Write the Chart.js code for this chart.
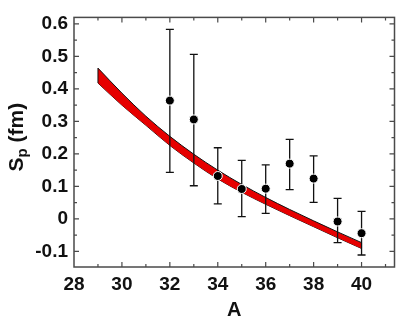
<!DOCTYPE html>
<html>
<head>
<meta charset="utf-8">
<script src="https://cdn.jsdelivr.net/npm/chart.js@4.4.1/dist/chart.umd.min.js"></script>
<style>
  html, body { margin: 0; padding: 0; background: #fff; }
  #wrap { width: 400px; height: 322px; position: relative; }
</style>
</head>
<body>
<div id="wrap"><canvas id="c" width="400" height="322"></canvas></div>
<script>
// ---- data ----
const bandA     = [29, 30, 31, 32, 33, 34, 35, 36, 37, 38, 39, 40];
const bandUpper = [0.464, 0.387, 0.316, 0.254, 0.199, 0.150, 0.106, 0.066, 0.029, -0.006, -0.040, -0.073];
const bandLower = [0.418, 0.350, 0.288, 0.226, 0.172, 0.123, 0.082, 0.045, 0.010, -0.024, -0.058, -0.091];

const massA   = [32, 33, 34, 35, 36, 37, 38, 39, 40];
const spValue = [0.364, 0.306, 0.132, 0.092, 0.093, 0.170, 0.124, -0.008, -0.044];
const errHigh = [0.583, 0.506, 0.219, 0.180, 0.166, 0.245, 0.194, 0.063, 0.023];
const errLow  = [0.143, 0.102, 0.046, 0.007, 0.017, 0.090, 0.051, -0.073, -0.111];

const xTicks = [28, 30, 32, 34, 36, 38, 40];
const xMinorTicks = [29, 31, 33, 35, 37, 39, 41];
const yTicks = [-0.1, 0, 0.1, 0.2, 0.3, 0.4, 0.5, 0.6];
const yMinorTicks = [-0.05, 0.05, 0.15, 0.25, 0.35, 0.45, 0.55];

const xTitle = 'A';
const yTitleMain = 'S';
const yTitleSub = 'p';
const yTitleRest = ' (fm)';

// ---- build data for the library ----
const upperPts = bandA.map((a, i) => ({ x: a, y: bandUpper[i] }));
const lowerPts = bandA.map((a, i) => ({ x: a, y: bandLower[i] }));
const points = massA.map((a, i) => ({ x: a, y: spValue[i] }));

const FONT = "'Liberation Sans', Arial, sans-serif";
const FRAME = '#4a4a4a';

const decor = {
  id: 'decor',
  beforeDatasetDraw(chart, args) {
    if (args.index !== 0) return;
    const ctx = chart.ctx, xs = chart.scales.x, ys = chart.scales.y;
    ctx.save();
    // band end edges
    ctx.strokeStyle = '#111';
    ctx.lineWidth = 1;
    [0, bandA.length - 1].forEach(i => {
      const px = xs.getPixelForValue(bandA[i]);
      ctx.beginPath();
      ctx.moveTo(px, ys.getPixelForValue(bandUpper[i]));
      ctx.lineTo(px, ys.getPixelForValue(bandLower[i]));
      ctx.stroke();
    });
    // error bars
    ctx.lineWidth = 1.3;
    massA.forEach((a, i) => {
      const px = xs.getPixelForValue(a);
      const pt = ys.getPixelForValue(errHigh[i]);
      const pb = ys.getPixelForValue(errLow[i]);
      ctx.beginPath();
      ctx.moveTo(px, pt); ctx.lineTo(px, pb);
      ctx.moveTo(px - 4, pt); ctx.lineTo(px + 4, pt);
      ctx.moveTo(px - 4, pb); ctx.lineTo(px + 4, pb);
      ctx.stroke();
    });
    ctx.restore();
  },
  afterDraw(chart) {
    const ctx = chart.ctx, xs = chart.scales.x, ys = chart.scales.y;
    const ca = chart.chartArea;
    ctx.save();
    ctx.strokeStyle = FRAME;
    ctx.lineWidth = 1.5;
    ctx.strokeRect(ca.left, ca.top, ca.right - ca.left, ca.bottom - ca.top);
    ctx.lineWidth = 1.2;
    ctx.beginPath();
    const xt = (vals, len) => vals.forEach(v => {
      const p = xs.getPixelForValue(v);
      if (p <= ca.left + 1 || p >= ca.right - 1) return;
      ctx.moveTo(p, ca.bottom); ctx.lineTo(p, ca.bottom - len);
      ctx.moveTo(p, ca.top); ctx.lineTo(p, ca.top + len);
    });
    const yt = (vals, len) => vals.forEach(v => {
      const p = ys.getPixelForValue(v);
      if (p <= ca.top + 1 || p >= ca.bottom - 1) return;
      ctx.moveTo(ca.left, p); ctx.lineTo(ca.left + len, p);
      ctx.moveTo(ca.right, p); ctx.lineTo(ca.right - len, p);
    });
    xt(xTicks, 5); xt(xMinorTicks, 3);
    yt(yTicks, 5); yt(yMinorTicks, 3);
    ctx.stroke();

    // x title
    ctx.fillStyle = '#111';
    ctx.font = 'bold 20px ' + FONT;
    ctx.textAlign = 'center';
    ctx.textBaseline = 'middle';
    ctx.fillText(xTitle, (ca.left + ca.right) / 2, 310);

    // y title with subscript, rotated
    const mainFont = 'bold 21px ' + FONT;
    const subFont = 'bold 15px ' + FONT;
    ctx.font = mainFont; const w1 = ctx.measureText(yTitleMain).width;
    const w3 = ctx.measureText(yTitleRest).width;
    ctx.font = subFont; const w2 = ctx.measureText(yTitleSub).width;
    const total = w1 + w2 + w3;
    ctx.translate(23, (ca.top + ca.bottom) / 2 - 5);
    ctx.rotate(-Math.PI / 2);
    ctx.textAlign = 'left';
    ctx.textBaseline = 'alphabetic';
    let x0 = -total / 2;
    ctx.font = mainFont; ctx.fillText(yTitleMain, x0, 0); x0 += w1;
    ctx.font = subFont; ctx.fillText(yTitleSub, x0, 4); x0 += w2;
    ctx.font = mainFont; ctx.fillText(yTitleRest, x0, 0);
    ctx.restore();
  }
};

new Chart(document.getElementById('c'), {
  type: 'scatter',
  data: {
    datasets: [
      {
        label: 'data',
        data: points,
        showLine: false,
        pointRadius: 4.5,
        pointHoverRadius: 4.5,
        pointBackgroundColor: '#000',
        pointBorderColor: '#fff',
        pointBorderWidth: 1
      },
      {
        label: 'band upper',
        data: upperPts,
        showLine: true,
        cubicInterpolationMode: 'monotone',
        pointRadius: 0,
        borderColor: '#111',
        borderWidth: 1,
        backgroundColor: '#e60000',
        fill: '+1'
      },
      {
        label: 'band lower',
        data: lowerPts,
        showLine: true,
        cubicInterpolationMode: 'monotone',
        pointRadius: 0,
        borderColor: '#111',
        borderWidth: 1,
        fill: false
      }
    ]
  },
  options: {
    responsive: false,
    animation: false,
    events: [],
    layout: { padding: { top: 3, right: 5, left: 0, bottom: 0 } },
    plugins: { legend: { display: false }, tooltip: { enabled: false } },
    scales: {
      x: {
        type: 'linear',
        min: 28, max: 41.375,
        grid: { display: false, drawTicks: false },
        border: { display: false },
        afterFit(s) { s.height = 55; },
        afterBuildTicks(s) { s.ticks = xTicks.map(v => ({ value: v })); },
        ticks: {
          padding: 6,
          color: '#111',
          font: { family: FONT, size: 19, weight: 'bold' },
          maxRotation: 0,
          autoSkip: false,
          callback: v => String(v)
        }
      },
      y: {
        type: 'linear',
        min: -0.148, max: 0.62,
        grid: { display: false, drawTicks: false },
        border: { display: false },
        afterFit(s) { s.width = 74; },
        afterBuildTicks(s) { s.ticks = yTicks.map(v => ({ value: v })); },
        ticks: {
          padding: 6,
          color: '#111',
          font: { family: FONT, size: 19, weight: 'bold' },
          autoSkip: false,
          callback: v => { const r = Math.round(v * 10) / 10; return r === 0 ? '0' : String(r); }
        }
      }
    }
  },
  plugins: [decor]
});
</script>
</body>
</html>
